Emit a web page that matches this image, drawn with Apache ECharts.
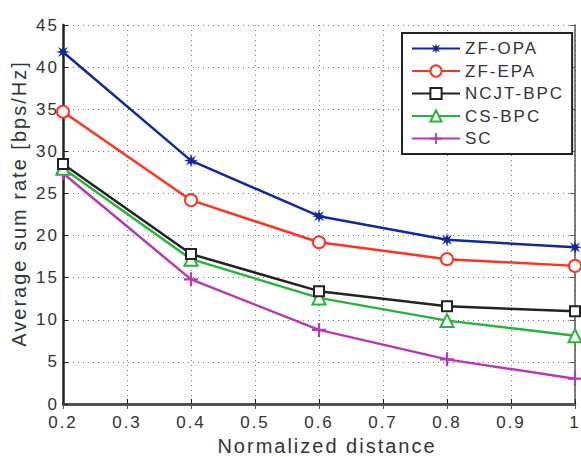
<!DOCTYPE html>
<html>
<head>
<meta charset="utf-8">
<script src="https://cdn.jsdelivr.net/npm/echarts@6/dist/echarts.min.js"></script>
<style>
  html, body { margin: 0; padding: 0; background: #fff; }
  #chart { width: 581px; height: 457px; }
  #chart text { letter-spacing: 2px; }
</style>
</head>
<body>
<div id="chart"></div>
<script>
'use strict';

// data
var distance = [0.2, 0.4, 0.6, 0.8, 1.0];
var zfOpa  = [41.8, 28.9, 22.3, 19.5, 18.6];
var zfEpa  = [34.7, 24.2, 19.2, 17.2, 16.4];
var ncjt   = [28.5, 17.8, 13.4, 11.6, 11.0];
var csBpc  = [28.0, 17.2, 12.6, 9.9, 8.1];
var sc     = [27.4, 14.8, 8.8, 5.3, 3.0];

var seriesNames = ['ZF-OPA', 'ZF-EPA', 'NCJT-BPC', 'CS-BPC', 'SC'];
var seriesColors = ['#13299b', '#ff3322', '#222222', '#27b33a', '#b33ab3'];

var starPath = 'path://M10,5 L6.85,5.77 L8.54,8.54 L5.77,6.85 L5,10 L4.23,6.85 L1.46,8.54 L3.15,5.77 L0,5 L3.15,4.23 L1.46,1.46 L4.23,3.15 L5,0 L5.77,3.15 L8.54,1.46 L6.85,4.23 Z';
var plusPath = 'path://M4.2,0 L5.8,0 L5.8,4.2 L10,4.2 L10,5.8 L5.8,5.8 L5.8,10 L4.2,10 L4.2,5.8 L0,5.8 L0,4.2 L4.2,4.2 Z';

function pairs(ys) {
    return distance.map(function (x, i) { return [x, ys[i]]; });
}

var allData = [zfOpa, zfEpa, ncjt, csBpc, sc];
var symbols = [starPath, 'emptyCircle', 'emptyRect', 'emptyTriangle', plusPath];
var sizes = [14, 12, 10, 13, 14];

var series = [];
for (let i = 0; i < allData.length; i++) {
    series.push({
        name: seriesNames[i],
        type: 'line',
        data: pairs(allData[i]),
        symbol: symbols[i],
        symbolSize: sizes[i],
        showAllSymbol: true,
        lineStyle: { color: seriesColors[i], width: 2.5 },
        itemStyle: { color: seriesColors[i], borderWidth: 2 },
        z: 10 - i
    });
}

var fontFam = '"Liberation Sans", Arial, sans-serif';
var labelStyle = { color: '#333', fontSize: 17, fontFamily: fontFam };

var myChart = echarts.init(document.getElementById('chart'), null, { renderer: 'svg' });

var option = {
    animation: false,
    grid: { left: 63, right: 6, top: 25, bottom: 53, containLabel: false, outerBoundsMode: 'none' },
    legend: {
        orient: 'vertical',
        left: 402,
        top: 33,
        padding: [7, 24, 7, 9],
        itemWidth: 48,
        itemHeight: 14,
        itemGap: 5.5,
        backgroundColor: '#fff',
        borderColor: '#222',
        borderWidth: 2,
        textStyle: { color: '#333', fontSize: 17, fontFamily: fontFam },
        data: seriesNames
    },
    xAxis: [{
        type: 'value',
        min: 0.2,
        max: 1,
        interval: 0.1,
        name: 'Normalized distance',
        nameLocation: 'middle',
        nameGap: 30,
        nameTextStyle: { color: '#333', fontSize: 20, fontFamily: fontFam, padding: [0, 0, 0, 16] },
        axisLine: { lineStyle: { color: '#222', width: 2.5 } },
        axisTick: { inside: true, length: 5, lineStyle: { color: '#222', width: 1 } },
        axisLabel: Object.assign({ margin: 10, formatter: function (v) { return +v.toFixed(1) === 1 ? '1' : v.toFixed(1); } }, labelStyle),
        splitLine: { show: true, lineStyle: { color: '#777', type: [1, 4], width: 1 } }
    }, {
        type: 'value',
        position: 'top',
        min: 0.2,
        max: 1,
        interval: 0.1,
        axisLine: { lineStyle: { color: '#555', width: 1.5 } },
        axisTick: { inside: true, length: 5, lineStyle: { color: '#555' } },
        axisLabel: { show: false },
        splitLine: { show: false }
    }],
    yAxis: [{
        type: 'value',
        min: 0,
        max: 45,
        interval: 5,
        name: 'Average sum rate [bps/Hz]',
        nameLocation: 'middle',
        nameGap: 33,
        nameTextStyle: { color: '#333', fontSize: 20, fontFamily: fontFam, padding: [0, 0, 0, 22] },
        axisLine: { show: true, lineStyle: { color: '#222', width: 2.5 } },
        axisTick: { show: true, inside: true, length: 5, lineStyle: { color: '#222' } },
        axisLabel: Object.assign({ margin: 4 }, labelStyle),
        splitLine: { show: true, lineStyle: { color: '#777', type: [1, 4], width: 1 } }
    }, {
        type: 'value',
        position: 'right',
        min: 0,
        max: 45,
        interval: 5,
        axisLine: { show: true, lineStyle: { color: '#555', width: 1.5 } },
        axisTick: { show: true, inside: true, length: 5, lineStyle: { color: '#555' } },
        axisLabel: { show: false },
        splitLine: { show: false }
    }],
    series: series
};

myChart.setOption(option);
</script>
</body>
</html>
